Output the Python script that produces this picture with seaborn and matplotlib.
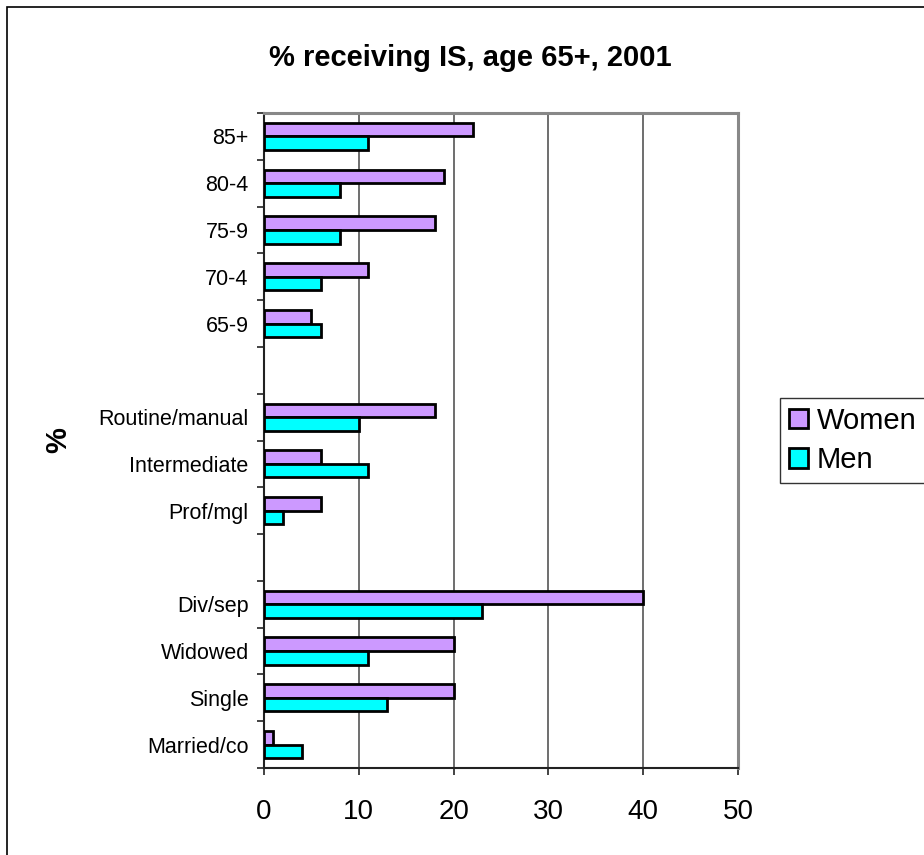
import matplotlib
matplotlib.use("Agg")
import matplotlib.pyplot as plt
import seaborn as sns
import pandas as pd
from matplotlib.patches import Rectangle

# categories from top to bottom, blanks are spacer rows
categories = ["85+", "80-4", "75-9", "70-4", "65-9", " ",
              "Routine/manual", "Intermediate", "Prof/mgl", "  ",
              "Div/sep", "Widowed", "Single", "Married/co"]
groups = ["85+", "80-4", "75-9", "70-4", "65-9",
          "Routine/manual", "Intermediate", "Prof/mgl",
          "Div/sep", "Widowed", "Single", "Married/co"]
women = [22, 19, 18, 11, 5, 18, 6, 6, 40, 20, 20, 1]
men = [11, 8, 8, 6, 6, 10, 11, 2, 23, 11, 13, 4]
series = ["Women", "Men"]
colors = {"Women": "#CC99FF", "Men": "#00FFFF"}
x_ticks = [0, 10, 20, 30, 40, 50]

df = pd.DataFrame({
    "group": groups * 2,
    "sex": ["Women"] * len(groups) + ["Men"] * len(groups),
    "pct": women + men,
})

sns.set_style("white")
plt.rcParams["font.family"] = ["Liberation Sans", "DejaVu Sans"]
plt.rcParams["text.color"] = "black"
plt.rcParams["xtick.labelcolor"] = "black"
plt.rcParams["ytick.labelcolor"] = "black"

fig = plt.figure(figsize=(9.24, 8.55), dpi=100)
ax = fig.add_axes([264 / 924, 1 - 768 / 855, (738 - 264) / 924, (768 - 113) / 855])

sns.barplot(data=df, y="group", x="pct", hue="sex", order=categories,
            hue_order=series, palette=colors, orient="h", width=0.58,
            saturation=1, edgecolor="black", linewidth=2, errorbar=None,
            legend=False, ax=ax, zorder=3)

ax.set_xlim(0, 50)
ax.set_ylim(len(categories) - 0.5, -0.5)
ax.set_xticks(x_ticks)
ax.set_xticklabels([str(t) for t in x_ticks])
ax.set_yticks(range(len(categories)))
ax.set_yticklabels(categories)
ax.set_yticks([i - 0.5 for i in range(len(categories) + 1)], minor=True)
ax.tick_params(axis="y", which="major", length=0, pad=11, labelsize=15.5)
ax.tick_params(axis="y", which="minor", left=True, length=5, width=1.2,
               color="#222222", direction="out")
ax.tick_params(axis="x", which="major", bottom=True, length=5, width=1.2,
               color="#222222", direction="out", pad=17, labelsize=20)
ax.set_xlabel("")
ax.set_ylabel("")

ax.grid(axis="x", color="#555555", linewidth=1.2, zorder=0)
ax.grid(axis="y", visible=False)
for side in ["top", "right"]:
    ax.spines[side].set_color("#888888")
    ax.spines[side].set_linewidth(2.2)
for side in ["left", "bottom"]:
    ax.spines[side].set_color("#222222")
    ax.spines[side].set_linewidth(1.5)

fig.text(470 / 924, 1 - 58 / 855, "% receiving IS, age 65+, 2001",
         ha="center", va="center", fontsize=21, fontweight="bold")
fig.text(58 / 924, 1 - 440 / 855, "%", ha="center", va="center",
         rotation=90, fontsize=21, fontweight="bold")

handles = [Rectangle((0, 0), 1, 1, facecolor=colors[s], edgecolor="black",
                     linewidth=2) for s in series]
leg = fig.legend(handles, series, loc="upper left",
                 bbox_to_anchor=(780 / 924, 1 - 398 / 855),
                 borderaxespad=0, fontsize=21, frameon=True, fancybox=False,
                 handlelength=0.65, handleheight=0.65, handletextpad=0.3,
                 labelspacing=0.4, borderpad=0.3)
leg.get_frame().set_edgecolor("black")
leg.get_frame().set_linewidth(1.0)

# outer chart frame (right and bottom edges fall outside the image)
fig.add_artist(Rectangle((7 / 924, -0.1), 2, 1.1 - 7 / 855,
                         transform=fig.transFigure, fill=False,
                         edgecolor="black", linewidth=1.2))

fig.savefig("out.png", dpi=100)
